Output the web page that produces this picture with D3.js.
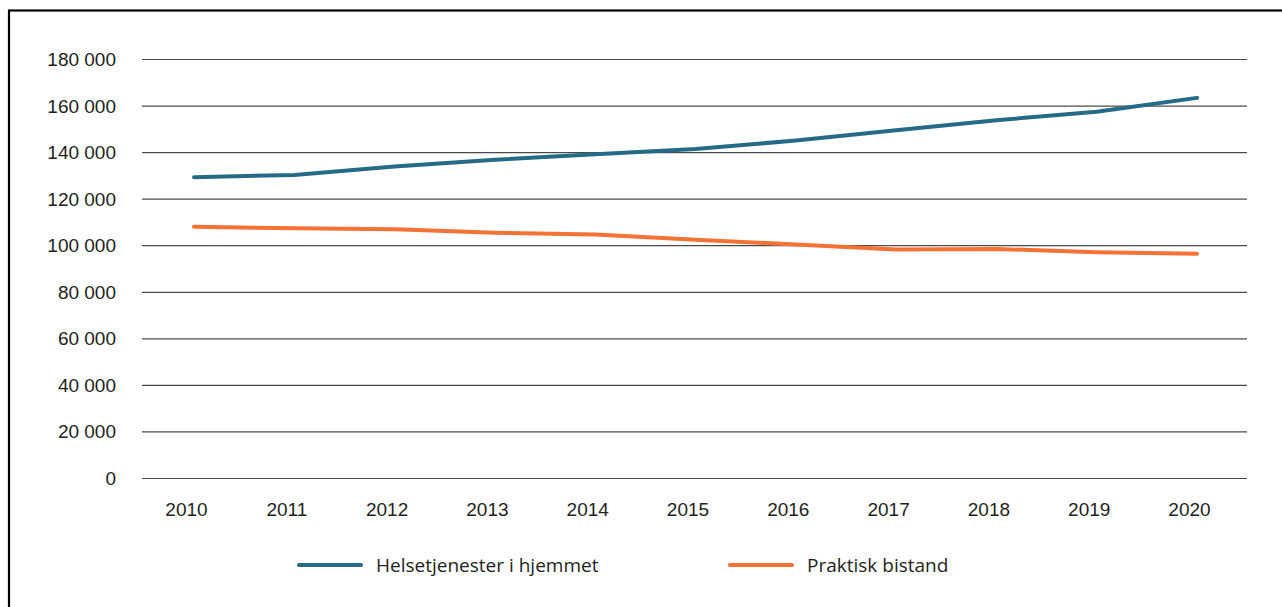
<!DOCTYPE html>
<html>
<head>
<meta charset="utf-8">
<script src="https://cdn.jsdelivr.net/npm/d3@7"></script>
<style>
  body { margin: 0; background: #fff; }
  svg { display: block; font-family: "Open Sans", sans-serif; }
</style>
</head>
<body>
<svg id="chart" width="1282" height="607"></svg>
<script>
// data
const years = ["2010","2011","2012","2013","2014","2015","2016","2017","2018","2019","2020"];
const helse = [129200,130200,133800,136700,139100,141300,145000,149400,153700,157300,163300];
const praktisk = [107900,107300,106900,105400,104600,102400,100300,98200,98400,97000,96300];
const yTicks = [0,20000,40000,60000,80000,100000,120000,140000,160000,180000];
const seriesNames = ["Helsetjenester i hjemmet", "Praktisk bistand"];
const colors = ["#256a87", "#f37234"];

const svg = d3.select("#chart");
const gl = 142, gr = 1247, // gridline extent
  yTop = 59, yBot = 478;
const fs = "19px";

// frame
svg.append("rect")
  .attr("x", 9).attr("y", 10.5)
  .attr("width", 1400).attr("height", 800)
  .attr("fill", "none").attr("stroke", "#000").attr("stroke-width", 2.2);

const y = d3.scaleLinear().domain([0, 180000]).range([yBot, yTop]);
// lines are drawn a few px right of the labels, as in the source
const x = d3.scalePoint().domain(years).range([194, 1197]);
const xLab = d3.scalePoint().domain(years).range([186, 1189]);

const fmt = d => d3.format(",")(d).replace(/,/g, " ");

// y axis + grid
const yAxis = d3.axisLeft(y).tickValues(yTicks).tickFormat(fmt)
  .tickSize(-(gr - gl)).tickPadding(26);
const gy = svg.append("g").attr("transform", `translate(${gl},0)`).call(yAxis);
gy.select(".domain").remove();
gy.selectAll(".tick line").attr("stroke", "#4a4a4a").attr("stroke-width", 1.2);
gy.selectAll(".tick text").attr("fill", "#231f20").style("font-size", fs)
  .attr("x", 116 - gl).attr("dy", "0.34em");

// x axis (labels only)
const xAxis = d3.axisBottom(xLab).tickSize(0).tickPadding(0);
const gx = svg.append("g").attr("transform", `translate(0,${yBot})`).call(xAxis);
gx.select(".domain").remove();
gx.selectAll(".tick text").attr("fill", "#231f20").style("font-size", fs)
  .attr("y", 32).attr("dy", "0.34em");

// lines
const line = d3.line().x((d, i) => x(years[i])).y(d => y(d));
[helse, praktisk].forEach((s, k) => {
  svg.append("path").datum(s)
    .attr("d", line)
    .attr("fill", "none")
    .attr("stroke", colors[k])
    .attr("stroke-width", 4)
    .attr("stroke-linecap", "round")
    .attr("stroke-linejoin", "round");
});

// legend
const leg = [{x: 299, name: seriesNames[0], c: colors[0]}, {x: 730, name: seriesNames[1], c: colors[1]}];
leg.forEach(l => {
  svg.append("line").attr("x1", l.x).attr("x2", l.x + 62)
    .attr("y1", 565).attr("y2", 565)
    .attr("stroke", l.c).attr("stroke-width", 4).attr("stroke-linecap", "round");
  svg.append("text").attr("x", l.x + 77).attr("y", 565).attr("dy", "0.36em")
    .attr("fill", "#231f20").style("font-size", fs).text(l.name);
});
</script>
</body>
</html>
